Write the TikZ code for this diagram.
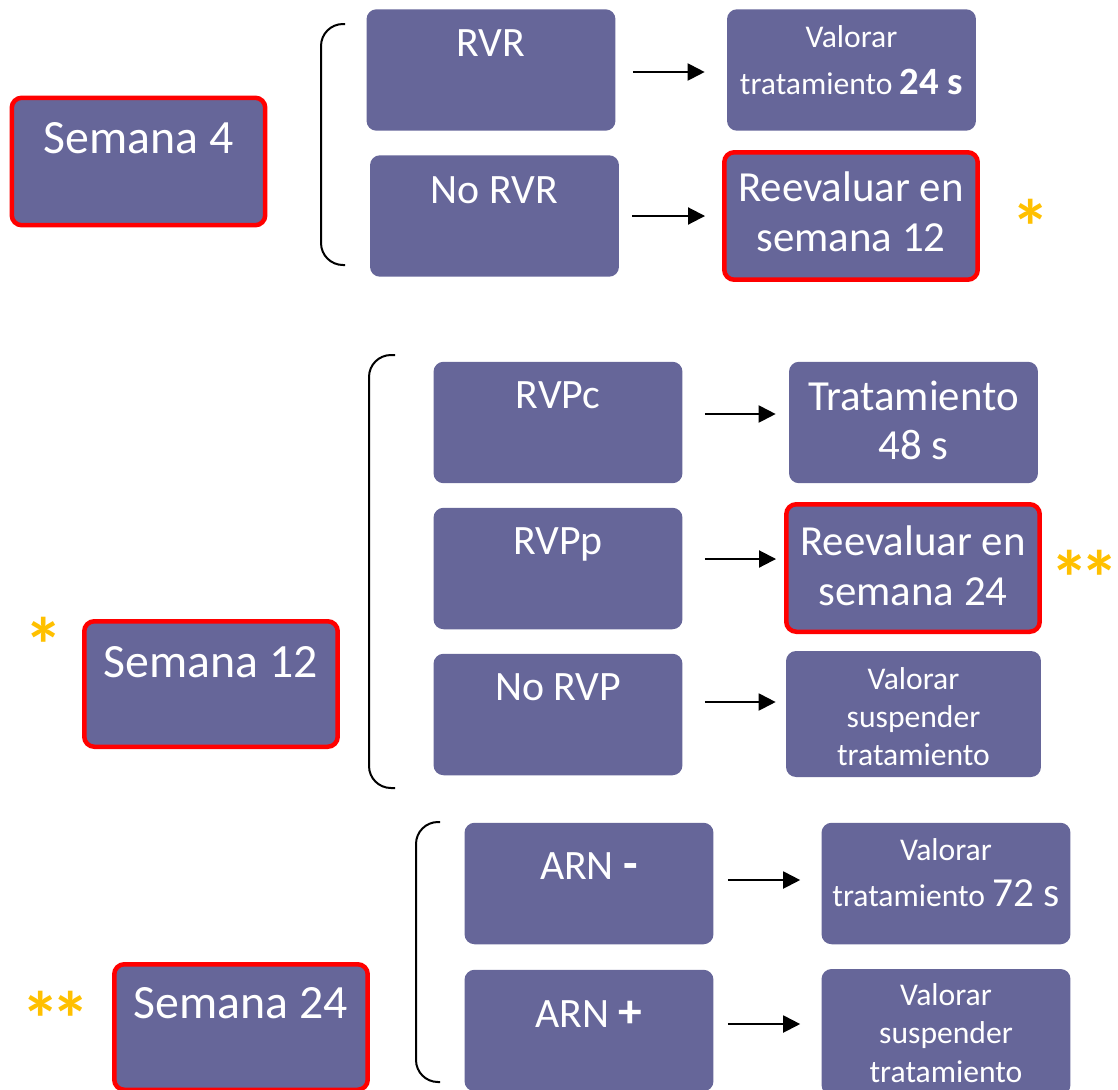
\documentclass[tikz,border=0pt]{standalone}
\usepackage{fontspec}
\setmainfont{Carlito}
\usetikzlibrary{calc,arrows.meta}
\definecolor{boxfill}{RGB}{102,102,153}
\definecolor{staryellow}{RGB}{255,192,0}

\begin{document}
\begin{tikzpicture}[x=0.02cm,y=-0.02cm,	%one unit = one pixel of the sketch
	box/.style={fill=boxfill, rounded corners=0.2cm, inner sep=0pt, minimum width=4.98cm, minimum height=2.43cm},
	redbox/.style={box, draw=red, line width=0.09cm, minimum width=5.07cm, minimum height=2.55cm},
	big/.style={text=white, inner sep=0pt, anchor=base, font=\fontsize{27.2}{32}\selectfont},
	mid/.style={text=white, inner sep=0pt, anchor=base, font=\fontsize{23.8}{28}\selectfont},
	two/.style={text=white, inner sep=0pt, align=center, font=\fontsize{24.4}{28.3}\selectfont},
	small/.style={text=white, inner sep=0pt, align=center, font=\fontsize{18}{21.8}\selectfont},
	star/.style={text=staryellow, inner sep=0pt, font=\fontsize{44}{44}\bfseries\selectfont},
	arr/.style={line width=0.04cm, -{Triangle[length=0.34cm,width=0.34cm]}},
	brace/.style={line width=0.04cm, rounded corners=0.44cm}]
	\useasboundingbox (0,0) rectangle (1118,1089);
	
	%week 4
	\node[redbox] (sem4) at (138.5,161.5) {};
	\node[box] (rvr) at (491,70) {};
	\node[box] (norvr) at (494.5,216) {};
	\node[box] (val24) at (851.5,70) {};
	\node[redbox] (reev12) at (851,216) {};
	\draw[brace] (345,24) -- (321,24) -- (321,265) -- (345,265);
	
	%week 12
	\node[redbox, minimum height=2.51cm] (sem12) at (211,684) {};
	\node[box] (rvpc) at (558,422.5) {};
	\node[box] (rvpp) at (558,568.5) {};
	\node[box] (norvp) at (558,714.5) {};
	\node[box] (trat48) at (913.5,422.5) {};
	\node[redbox] (reev24) at (913,568) {};
	\node[box, minimum width=5.1cm, minimum height=2.52cm] (susp12) at (913.5,714) {};
	\draw[brace] (395,355) -- (369,355) -- (369,788) -- (395,788);
	
	%week 24
	\node[redbox, minimum height=2.51cm] (sem24) at (241,1027) {};
	\node[box] (arnm) at (589,883.5) {};
	\node[box] (arnp) at (589,1030.5) {};
	\node[box] (val72) at (946,883.5) {};
	\node[box, minimum height=2.52cm] (susp24) at (946,1032) {};
	\draw[brace] (440,822) -- (416,822) -- (416,1082) -- (440,1082);
	
	%texts
	\node[big] (sem4-t) at ($(sem4.center)+(0,-8.5)$) {Semana 4};
	\node[big] (sem12-t) at ($(sem12.center)+(0,-7)$) {Semana 12};
	\node[big] (sem24-t) at ($(sem24.center)+(0,-9)$) {Semana 24};
	\node[mid] (rvr-t) at ($(rvr.center)+(0,-14)$) {RVR};
	\node[mid] (norvr-t) at ($(norvr.center)+(0,-13)$) {No RVR};
	\node[mid] (rvpc-t) at ($(rvpc.center)+(0,-14.5)$) {RVPc};
	\node[mid] (rvpp-t) at ($(rvpp.center)+(0,-14)$) {RVPp};
	\node[mid] (norvp-t) at ($(norvp.center)+(0,-14)$) {No RVP};
	\node[mid] (arnm-t) at ($(arnm.center)+(0,-4.5)$) {ARN {\fontsize{27}{28}\bfseries\selectfont -}};
	\node[mid] (arnp-t) at ($(arnp.center)+(0,-3.5)$) {ARN {\fontsize{27}{28}\bfseries\selectfont +}};
	\node[small] (val24-t) at ($(val24.center)+(0,-10)$) {Valorar\\[5pt]tratamiento {\fontsize{22}{22}\bfseries\selectfont 24 s}};
	\node[two] (reev12-t) at ($(reev12.center)+(0,-4)$) {Reevaluar en\\semana 12};
	\node[two] (trat48-t) at ($(trat48.center)+(0,-2)$) {Tratamiento\\48 s};
	\node[two] (reev24-t) at ($(reev24.center)+(0,-2.5)$) {Reevaluar en\\semana 24};
	\node[small] (susp12-t) at ($(susp12.center)+(0,2.5)$) {Valorar\\suspender\\tratamiento};
	\node[small] (val72-t) at ($(val72.center)+(0,-10.5)$) {Valorar\\[4.5pt]tratamiento {\fontsize{23.5}{23.5}\selectfont 72 s}};
	\node[small] (susp24-t) at ($(susp24.center)+(0,1)$) {Valorar\\suspender\\tratamiento};
	
	%arrows: from/to/vertical offset/gap at start/gap at end
	\foreach \a/\b/\dy/\s/\e in {rvr/val24/2/17/22, norvr/reev12/0/13/17, rvpc/trat48/-8.5/22/13, rvpp/reev24/-9.5/22/8, norvp/susp12/-12.5/22/10, arnm/val72/-3.5/14/21, arnp/susp24/-6.5/14/21}{
		\draw[arr] ($(\a.east)+(\s,\dy)$) -- ($(\b.west |- \a.east)+(-\e,\dy)$);
	}
	
	%asterisks
	\node[star] (st1) at (1031,227) {*};
	\node[star] (st2) at (44,645) {*};
	\node[star] (st3) at (1085,578) {*\kern-5pt*};
	\node[star] (st4) at (56,1019) {*\kern-5pt*};
\end{tikzpicture}
\end{document}
